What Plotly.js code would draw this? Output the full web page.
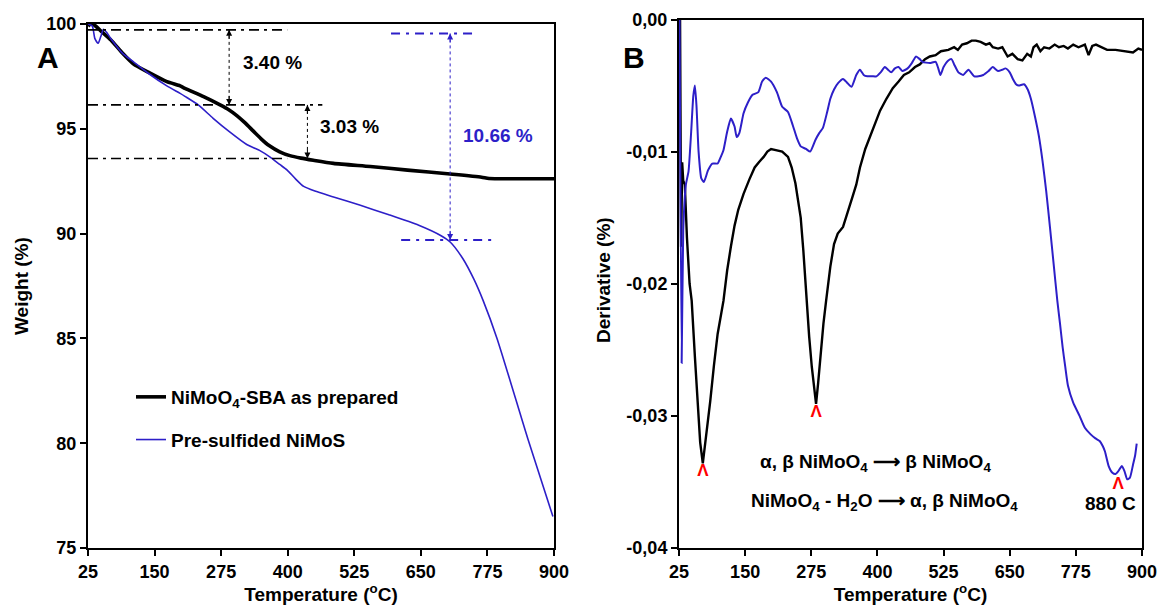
<!DOCTYPE html>
<html>
<head>
<meta charset="utf-8">
<script src="https://cdn.plot.ly/plotly-3.0.1.min.js"></script>
<style>html,body{margin:0;padding:0;background:#fff;}#chart{width:1158px;height:605px;}</style>
</head>
<body>
<div id="chart"></div>
<script>
// ---------- Panel A: TGA (weight %) ----------
const tgaBlackT = [25,30,37,50,68,90,110,138,173,198,207,242,273,290,305,320,335,350,365,385,404,425,448,486,555,625,705,764,778,840,900];
const tgaBlackW = [99.9,100.0,99.95,99.65,99.24,98.6,98.1,97.7,97.25,97.05,96.93,96.53,96.14,95.9,95.62,95.28,94.9,94.52,94.2,93.9,93.72,93.6,93.5,93.35,93.2,93.03,92.84,92.69,92.63,92.62,92.62];

const tgaBlueT = [25,33,38,44,49,54,60,68,90,110,138,173,198,207,232,260,291,323,347,367,385,399,415,430,451,486,535,590,646,688,705,729,750,767,793,851,898];
const tgaBlueW = [100.0,99.9,99.3,99.08,99.4,99.75,99.6,99.3,98.6,98.2,97.65,97.05,96.69,96.55,96.14,95.5,94.85,94.25,93.97,93.65,93.3,93.03,92.6,92.25,92.03,91.75,91.36,90.9,90.4,89.9,89.6,88.8,87.8,86.8,85.0,80.2,76.5];

// step levels (black dash-dot guides) and their right ends
const stepLevels = [99.72, 96.14, 93.58];
const stepEnds = [399, 465, 399];
// black double arrows
const stepArrowT = [290, 437];
const stepLabels = ["3.40 %", "3.03 %"];
const stepLabelT = [313, 457];
const stepLabelW = [98.14, 95.09];
// blue guides
const blueLevels = [99.55, 89.7];
const blueStarts = [594, 613];
const blueEnds = [754, 782];
const blueArrowT = 705;
const blueLabel = "10.66 %";
const blueLabelT = 725;
const blueLabelW = 94.7;

// ---------- Panel B: DTG (derivative %) ----------
const dtgBlackT = [27,29,31,33,36,40,45,49,55,60,65,70,75,84,91,98,109,116,123,130,137,147,158,168,176,185,192,199,210,220,231,238,245,250,255,260,266,271,276,280,284,288,293,298,303,311,318,325,335,345,353,360,367,377,388,396,405,417,429,440,450,460,471,480,490,499,510,520,534,545,552,560,569,578,586,595,605,612,618,628,636,646,655,665,674,683,690,695,701,708,715,725,735,743,752,760,770,780,792,799,806,813,825,834,850,865,883,893,900];
const dtgBlackD = [0.0,-0.0172,-0.0108,-0.0122,-0.0125,-0.0165,-0.0200,-0.0213,-0.0255,-0.0289,-0.0320,-0.0336,-0.0320,-0.0289,-0.0262,-0.0238,-0.0213,-0.0190,-0.0172,-0.0156,-0.0144,-0.0132,-0.0121,-0.0112,-0.0108,-0.0104,-0.0100,-0.0098,-0.0099,-0.0100,-0.0104,-0.0112,-0.0124,-0.0137,-0.0150,-0.0175,-0.0213,-0.0240,-0.0263,-0.0280,-0.0291,-0.0275,-0.0251,-0.0230,-0.0213,-0.0187,-0.0170,-0.0162,-0.0157,-0.0145,-0.0134,-0.0125,-0.0112,-0.0098,-0.0086,-0.0078,-0.0069,-0.0060,-0.0052,-0.0047,-0.0042,-0.0040,-0.0036,-0.0034,-0.0030,-0.0028,-0.0027,-0.0024,-0.0023,-0.0021,-0.0023,-0.0019,-0.0018,-0.0016,-0.0016,-0.0017,-0.0019,-0.0018,-0.0021,-0.0022,-0.0021,-0.0028,-0.0026,-0.0030,-0.0031,-0.0026,-0.0028,-0.0021,-0.0019,-0.0024,-0.0021,-0.0022,-0.0019,-0.0021,-0.0020,-0.0022,-0.0019,-0.0021,-0.0019,-0.0027,-0.0020,-0.0019,-0.0021,-0.0023,-0.0023,-0.0024,-0.0025,-0.0022,-0.0023];

const dtgBlueT = [26,30,33,38,43,48,52,55,58,62,67,72,80,88,98,104,109,116,123,130,134,139,147,155,164,175,182,189,199,210,220,231,240,248,255,265,273,283,290,297,305,311,318,326,335,343,351,360,367,374,381,390,398,406,414,420,426,433,440,447,457,465,473,480,485,499,510,515,519,525,534,540,545,553,562,572,583,591,600,610,618,628,636,642,650,656,662,667,677,684,690,698,705,712,719,726,733,740,745,750,755,760,770,782,792,803,812,820,826,830,837,844,850,855,862,867,872,877,883,887,890];
const dtgBlueD = [0.0,-0.026,-0.016,-0.0125,-0.0115,-0.0085,-0.0058,-0.0050,-0.0065,-0.0100,-0.0120,-0.0123,-0.0114,-0.0109,-0.0109,-0.0104,-0.0099,-0.0085,-0.0075,-0.0081,-0.0089,-0.0086,-0.0071,-0.0063,-0.0057,-0.0055,-0.0047,-0.0044,-0.0047,-0.0055,-0.0066,-0.0070,-0.0080,-0.0090,-0.0096,-0.0098,-0.0100,-0.0091,-0.0086,-0.0082,-0.0070,-0.0060,-0.0053,-0.0048,-0.0045,-0.0048,-0.0051,-0.0042,-0.0038,-0.0042,-0.0043,-0.0043,-0.0043,-0.0040,-0.0036,-0.0038,-0.0040,-0.0037,-0.0036,-0.0039,-0.0037,-0.0033,-0.0028,-0.0030,-0.0032,-0.0033,-0.0032,-0.0037,-0.0042,-0.0036,-0.0031,-0.0030,-0.0034,-0.0040,-0.0042,-0.0038,-0.0043,-0.0043,-0.0042,-0.0039,-0.0036,-0.0039,-0.0038,-0.0037,-0.0040,-0.0045,-0.0049,-0.0050,-0.0049,-0.0053,-0.0060,-0.0074,-0.0088,-0.0107,-0.0130,-0.0157,-0.0185,-0.0213,-0.0230,-0.0248,-0.0263,-0.0277,-0.0290,-0.0300,-0.0309,-0.0314,-0.0317,-0.0319,-0.0323,-0.0327,-0.0338,-0.0343,-0.0344,-0.0342,-0.0338,-0.0342,-0.0348,-0.0347,-0.0337,-0.0330,-0.0321];

const peakT = [70, 284, 855];
const peakD = [-0.0342, -0.0298, -0.0352];

const dtgTexts = ["α, β NiMoO<sub>4</sub> ⟶ β NiMoO<sub>4</sub>", "NiMoO<sub>4</sub> - H<sub>2</sub>O ⟶ α, β NiMoO<sub>4</sub>", "880 C"];
const dtgTextT = [397, 414, 841];
const dtgTextD = [-0.03355, -0.03655, -0.03666];

// ---------- tick labels / titles ----------
const tempTicks = [25,150,275,400,525,650,775,900];
const weightTicks = [75,80,85,90,95,100];
const derivTicks = [-0.04,-0.03,-0.02,-0.01,0];
const derivTickText = ["-0,04","-0,03","-0,02","-0,01","0,00"];
const xTitle = 'Temperature (<sup>o</sup>C)';
const yTitleA = 'Weight (%)';
const yTitleB = 'Derivative (%)';

const BLUE = '#2d1fc8';
const FONT = 'Liberation Sans, Arial, sans-serif';
const W = 1158, H = 605;

const traces = [
  {x: tgaBlackT, y: tgaBlackW, xaxis:'x', yaxis:'y', mode:'lines', name:'NiMoO<sub>4</sub>-SBA as prepared',
   line:{color:'#000', width:3.6, shape:'spline', smoothing:0.6}, legendgroup:'a'},
  {x: tgaBlueT, y: tgaBlueW, xaxis:'x', yaxis:'y', mode:'lines', name:'Pre-sulfided NiMoS',
   line:{color:BLUE, width:1.6, shape:'spline', smoothing:0.6}, legendgroup:'b'},
  {x: dtgBlackT, y: dtgBlackD, xaxis:'x2', yaxis:'y2', mode:'lines', showlegend:false,
   line:{color:'#000', width:2.4}},
  {x: dtgBlueT, y: dtgBlueD, xaxis:'x2', yaxis:'y2', mode:'lines', showlegend:false,
   line:{color:BLUE, width:2, shape:'spline', smoothing:0.5}},
  {x: peakT, y: peakD, xaxis:'x2', yaxis:'y2', mode:'text', showlegend:false,
   text: peakT.map(()=> 'Λ'), textposition:'middle center',
   textfont:{color:'#ff0000', size:17, family:FONT, weight:700}}
];

const shapes = [];
const annotations = [];
const txtFont = (c)=>({family:FONT, size:19, color:c, weight:700});
stepLevels.forEach((lv,i)=>{
  shapes.push({type:'line', xref:'x', yref:'y', x0:25, x1:stepEnds[i], y0:lv, y1:lv,
    line:{color:'#000', width:1.6, dash:'10px,5px,3px,5px'}});
});
stepArrowT.forEach((t,i)=>{
  const top = stepLevels[i], bot = stepLevels[i+1];
  shapes.push({type:'line', xref:'x', yref:'y', x0:t, x1:t, y0:top, y1:bot,
    line:{color:'#000', width:1, dash:'dot'}});
  annotations.push({xref:'x', yref:'y', x:t, y:top, ax:t, ay:top-0.5, axref:'x', ayref:'y', text:'', showarrow:true,
    arrowhead:2, arrowsize:1.2, arrowwidth:1, arrowcolor:'#000', standoff:0});
  annotations.push({xref:'x', yref:'y', x:t, y:bot, ax:t, ay:bot+0.5, axref:'x', ayref:'y', text:'', showarrow:true,
    arrowhead:2, arrowsize:1.2, arrowwidth:1, arrowcolor:'#000', standoff:0});
  annotations.push({xref:'x', yref:'y', x:stepLabelT[i], y:stepLabelW[i], text:stepLabels[i], showarrow:false,
    xanchor:'left', yanchor:'middle', font:txtFont('#000')});
});
blueLevels.forEach((lv,i)=>{
  shapes.push({type:'line', xref:'x', yref:'y', x0:blueStarts[i], x1:blueEnds[i], y0:lv, y1:lv,
    line:{color:BLUE, width:2, dash:'9px,6px,3px,6px'}});
});
shapes.push({type:'line', xref:'x', yref:'y', x0:blueArrowT, x1:blueArrowT, y0:blueLevels[0], y1:blueLevels[1],
  line:{color:BLUE, width:1, dash:'dot'}});
annotations.push({xref:'x', yref:'y', x:blueArrowT, y:blueLevels[0], ax:blueArrowT, ay:blueLevels[0]-0.5, axref:'x', ayref:'y', text:'', showarrow:true,
  arrowhead:2, arrowsize:1.2, arrowwidth:1, arrowcolor:BLUE, standoff:0});
annotations.push({xref:'x', yref:'y', x:blueArrowT, y:blueLevels[1], ax:blueArrowT, ay:blueLevels[1]+0.5, axref:'x', ayref:'y', text:'', showarrow:true,
  arrowhead:2, arrowsize:1.2, arrowwidth:1, arrowcolor:BLUE, standoff:0});
annotations.push({xref:'x', yref:'y', x:blueLabelT, y:blueLabelW, text:blueLabel, showarrow:false,
  xanchor:'left', yanchor:'middle', font:txtFont(BLUE)});

dtgTexts.forEach((t,i)=>{
  annotations.push({xref:'x2', yref:'y2', x:dtgTextT[i], y:dtgTextD[i], text:t, showarrow:false,
    xanchor:'center', yanchor:'middle', font:txtFont('#000')});
});
annotations.push({xref:'paper', yref:'paper', x:48/W, y:1-58/H, text:'A', showarrow:false,
  xanchor:'center', yanchor:'middle', font:{family:FONT, size:30, color:'#000', weight:700}});
annotations.push({xref:'paper', yref:'paper', x:634/W, y:1-58/H, text:'B', showarrow:false,
  xanchor:'center', yanchor:'middle', font:{family:FONT, size:30, color:'#000', weight:700}});
// y-axis titles (placed explicitly)
annotations.push({xref:'paper', yref:'paper', x:22/W, y:1-286/H, text:yTitleA, textangle:-90, showarrow:false,
  xanchor:'center', yanchor:'middle', font:{family:FONT, size:19, color:'#000', weight:700}});
annotations.push({xref:'paper', yref:'paper', x:603/W, y:1-280/H, text:yTitleB, textangle:-90, showarrow:false,
  xanchor:'center', yanchor:'middle', font:{family:FONT, size:19, color:'#000', weight:700}});

const tickFont = {family:FONT, size:18, color:'#000', weight:700};
const titleFont = {family:FONT, size:19, color:'#000', weight:700};
const axCommon = {showgrid:false, zeroline:false, showline:true, linecolor:'#000', linewidth:2, mirror:true,
  ticks:'outside', ticklen:6, tickwidth:2, tickcolor:'#000', tickfont:tickFont, automargin:false};

const layout = {
  width:W, height:H, margin:{l:0,r:0,t:0,b:0}, paper_bgcolor:'#fff', plot_bgcolor:'#fff',
  showlegend:true,
  legend:{x:131/W, y:1-378/H, xanchor:'left', yanchor:'top', bgcolor:'rgba(0,0,0,0)',
    font:{family:FONT, size:19, color:'#000', weight:700}, tracegroupgap:15, itemwidth:30},
  xaxis: Object.assign({}, axCommon, {domain:[88/W, 554/W], range:[25,900], tickvals:tempTicks, anchor:'y',
    title:{text:xTitle, font:titleFont}}),
  yaxis: Object.assign({}, axCommon, {domain:[57/H, 1-24/H], range:[75,100], tickvals:weightTicks, anchor:'x'}),
  xaxis2: Object.assign({}, axCommon, {domain:[679/W, 1142/W], range:[25,900], tickvals:tempTicks, anchor:'y2',
    title:{text:xTitle, font:titleFont}}),
  yaxis2: Object.assign({}, axCommon, {domain:[57/H, 1-19.5/H], range:[-0.04,0], tickvals:derivTicks, ticktext:derivTickText, anchor:'x2'}),
  shapes:shapes, annotations:annotations
};

Plotly.newPlot('chart', traces, layout, {displayModeBar:false, staticPlot:true});
</script>
</body>
</html>
